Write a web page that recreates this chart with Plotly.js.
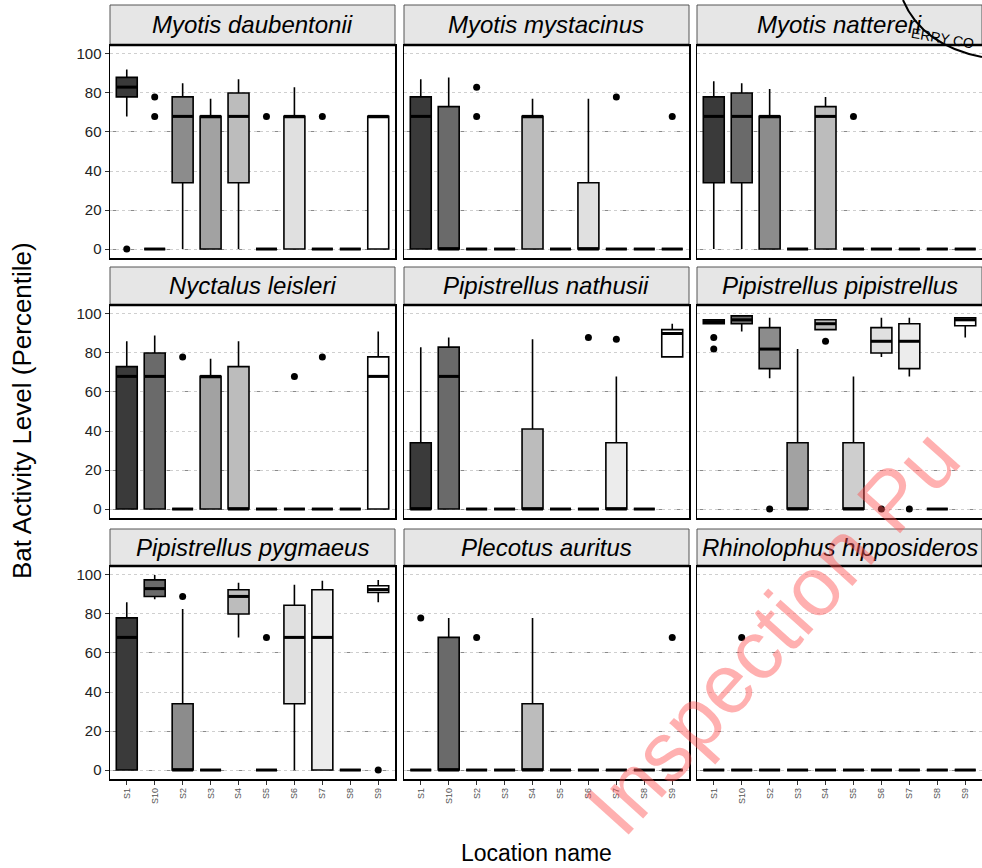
<!DOCTYPE html>
<html><head><meta charset="utf-8">
<script src="https://cdn.plot.ly/plotly-3.0.1.min.js"></script>
<style>html,body{margin:0;padding:0;background:#fff}</style>
</head><body><div id="chart" style="width:982px;height:868px"></div>
<script>
// ---------------- data ----------------
const sites = ["S1","S10","S2","S3","S4","S5","S6","S7","S8","S9"];
const species = ["Myotis daubentonii","Myotis mystacinus","Myotis nattereri",
  "Nyctalus leisleri","Pipistrellus nathusii","Pipistrellus pipistrellus",
  "Pipistrellus pygmaeus","Plecotus auritus","Rhinolophus hipposideros"];

// Myotis daubentonii
const daubQ1  = [78, 0, 34,  0, 34, 0,  0, 0, 0,  0];
const daubMed = [83, 0, 68, 68, 68, 0, 68, 0, 0, 68];
const daubQ3  = [88, 0, 78, 68, 80, 0, 68, 0, 0, 68];
const daubLo  = [68, 0,  0,  0,  0, 0,  0, 0, 0,  0];
const daubHi  = [92, 0, 85, 77, 87, 0, 83, 0, 0, 68];
const daubOutSite = ["S1","S10","S10","S5","S7"];
const daubOutVal  = [0, 78, 68, 68, 68];

// Myotis mystacinus
const mystQ1  = [0, 0, 0, 0,  0, 0,  0, 0, 0, 0];
const mystMed = [68, 0, 0, 0, 68, 0, 0, 0, 0, 0];
const mystQ3  = [78, 73, 0, 0, 68, 0, 34, 0, 0, 0];
const mystLo  = [0, 0, 0, 0,  0, 0,  0, 0, 0, 0];
const mystHi  = [87, 88, 0, 0, 77, 0, 77, 0, 0, 0];
const mystOutSite = ["S2","S2","S7","S9"];
const mystOutVal  = [83, 68, 78, 68];

// Myotis nattereri
const nattQ1  = [34, 34,  0, 0,  0, 0, 0, 0, 0, 0];
const nattMed = [68, 68, 68, 0, 68, 0, 0, 0, 0, 0];
const nattQ3  = [78, 80, 68, 0, 73, 0, 0, 0, 0, 0];
const nattLo  = [0, 0, 0, 0, 0, 0, 0, 0, 0, 0];
const nattHi  = [86, 85, 82, 0, 78, 0, 0, 0, 0, 0];
const nattOutSite = ["S5"];
const nattOutVal  = [68];

// Nyctalus leisleri
const leisQ1  = [0, 0, 0, 0, 0, 0, 0, 0, 0, 0];
const leisMed = [68, 68, 0, 68, 0, 0, 0, 0, 0, 68];
const leisQ3  = [73, 80, 0, 68, 73, 0, 0, 0, 0, 78];
const leisLo  = [0, 0, 0, 0, 0, 0, 0, 0, 0, 0];
const leisHi  = [86, 89, 0, 77, 86, 0, 0, 0, 0, 91];
const leisOutSite = ["S2","S6","S7"];
const leisOutVal  = [78, 68, 78];

// Pipistrellus nathusii
const nathQ1  = [0, 0, 0, 0, 0, 0, 0, 0, 0, 78];
const nathMed = [0, 68, 0, 0, 0, 0, 0, 0, 0, 90];
const nathQ3  = [34, 83, 0, 0, 41, 0, 0, 34, 0, 92];
const nathLo  = [0, 0, 0, 0, 0, 0, 0, 0, 0, 78];
const nathHi  = [83, 88, 0, 0, 87, 0, 0, 68, 0, 95];
const nathOutSite = ["S6","S7"];
const nathOutVal  = [88, 87];

// Pipistrellus pipistrellus
const pipiQ1  = [95, 95, 72, 0, 92, 0, 80, 72, 0, 94];
const pipiMed = [96, 97, 82, 0, 95, 0, 86, 86, 0, 97];
const pipiQ3  = [97, 99, 93, 34, 97, 34, 93, 95, 0, 98];
const pipiLo  = [95, 91, 67, 0, 92, 0, 78, 68, 0, 88];
const pipiHi  = [97, 99, 98, 82, 97, 68, 98, 98, 0, 98];
const pipiOutSite = ["S1","S1","S2","S4","S6","S7"];
const pipiOutVal  = [88, 82, 0, 86, 0, 0];

// Pipistrellus pygmaeus
const pygmQ1  = [0, 89, 0, 0, 80, 0, 34, 0, 0, 91];
const pygmMed = [68, 93, 0, 0, 89, 0, 68, 68, 0, 92.5];
const pygmQ3  = [78, 97.5, 34, 0, 92.4, 0, 84.5, 92.4, 0, 94.5];
const pygmLo  = [0, 87.6, 0, 0, 68, 0, 0, 0, 0, 86];
const pygmHi  = [86, 100, 82.5, 0, 96, 0, 95, 97, 0, 97.4];
const pygmOutSite = ["S2","S5","S9"];
const pygmOutVal  = [89, 68, 0];

// Plecotus auritus
const plecQ1  = [0, 0, 0, 0, 0, 0, 0, 0, 0, 0];
const plecMed = [0, 0, 0, 0, 0, 0, 0, 0, 0, 0];
const plecQ3  = [0, 68, 0, 0, 34, 0, 0, 0, 0, 0];
const plecLo  = [0, 0, 0, 0, 0, 0, 0, 0, 0, 0];
const plecHi  = [0, 78, 0, 0, 78, 0, 0, 0, 0, 0];
const plecOutSite = ["S1","S2","S9"];
const plecOutVal  = [78, 68, 68];

// Rhinolophus hipposideros
const rhinQ1  = [0, 0, 0, 0, 0, 0, 0, 0, 0, 0];
const rhinMed = [0, 0, 0, 0, 0, 0, 0, 0, 0, 0];
const rhinQ3  = [0, 0, 0, 0, 0, 0, 0, 0, 0, 0];
const rhinLo  = [0, 0, 0, 0, 0, 0, 0, 0, 0, 0];
const rhinHi  = [0, 0, 0, 0, 0, 0, 0, 0, 0, 0];
const rhinOutSite = ["S10"];
const rhinOutVal  = [68];

const yTicks = [0, 20, 40, 60, 80, 100];
const yStrongGrid = [0, 20, 60];
const siteFills = ["#3a3a3a","#6a6a6a","#8c8c8c","#a2a2a2","#bcbcbc",
                   "#cecece","#e0e0e0","#ececec","#f6f6f6","#ffffff"];

// --------------- build ---------------
const panels = [
  [daubQ1,daubMed,daubQ3,daubLo,daubHi,daubOutSite,daubOutVal],
  [mystQ1,mystMed,mystQ3,mystLo,mystHi,mystOutSite,mystOutVal],
  [nattQ1,nattMed,nattQ3,nattLo,nattHi,nattOutSite,nattOutVal],
  [leisQ1,leisMed,leisQ3,leisLo,leisHi,leisOutSite,leisOutVal],
  [nathQ1,nathMed,nathQ3,nathLo,nathHi,nathOutSite,nathOutVal],
  [pipiQ1,pipiMed,pipiQ3,pipiLo,pipiHi,pipiOutSite,pipiOutVal],
  [pygmQ1,pygmMed,pygmQ3,pygmLo,pygmHi,pygmOutSite,pygmOutVal],
  [plecQ1,plecMed,plecQ3,plecLo,plecHi,plecOutSite,plecOutVal],
  [rhinQ1,rhinMed,rhinQ3,rhinLo,rhinHi,rhinOutSite,rhinOutVal]
];

const W = 982, H = 868;
const colL = [110, 404, 697], colW = 285;
const rowTop = [45, 305, 566], rowH = 213;
const stripTop = [5, 267, 529];
const BW = 0.75;

const traces = [];
const layout = {
  width: W, height: H, margin: {l:0, r:0, t:0, b:0},
  paper_bgcolor: '#fff', plot_bgcolor: '#fff', showlegend: false,
  font: {family: 'Liberation Sans, Arial, sans-serif', color: '#000'},
  shapes: [], annotations: []
};

panels.forEach((p, k) => {
  const r = Math.floor(k / 3), c = k % 3;
  const sfx = k === 0 ? '' : String(k + 1);
  const xa = 'x' + sfx, ya = 'y' + sfx;
  const [q1, med, q3, lo, hi, outS, outV] = p;
  sites.forEach((s, i) => {
    traces.push({
      type: 'box', x: [i], q1: [q1[i]], median: [med[i]], q3: [q3[i]],
      lowerfence: [lo[i]], upperfence: [hi[i]],
      width: BW, whiskerwidth: 0, boxpoints: false,
      fillcolor: siteFills[i], line: {color: '#000', width: 1.6},
      xaxis: xa, yaxis: ya, hoverinfo: 'skip', showlegend: false
    });
  });
  // thick median lines
  const mx = [], my = [];
  sites.forEach((s, i) => { mx.push(i - BW/2, i + BW/2, null); my.push(med[i], med[i], null); });
  traces.push({type:'scatter', mode:'lines', x: mx, y: my, line:{color:'#000', width:3},
    xaxis: xa, yaxis: ya, hoverinfo:'skip', showlegend:false});
  // outliers
  traces.push({type:'scatter', mode:'markers', x: outS.map(s => sites.indexOf(s)), y: outV,
    marker:{color:'#000', size:7}, xaxis: xa, yaxis: ya, hoverinfo:'skip', showlegend:false, cliponaxis:false});

  const x0 = colL[c] / W, x1 = Math.min(1, (colL[c] + colW) / W);
  const y1 = 1 - rowTop[r] / H, y0 = 1 - (rowTop[r] + rowH) / H;
  layout['xaxis' + sfx] = {
    domain: [x0, x1], anchor: ya, range: [-0.6, 9.6],
    tickvals: sites.map((s, i) => i), ticktext: sites,
    showticklabels: r === 2, ticks: r === 2 ? 'outside' : '', ticklen: 4, tickcolor: '#333',
    tickangle: -90, tickfont: {size: 9, color: '#555'},
    showgrid: false, zeroline: false, showline: true, mirror: true,
    linecolor: '#000', linewidth: 1.5, fixedrange: true
  };
  layout['yaxis' + sfx] = {
    domain: [y0, y1], anchor: xa, range: [-4.6, 104.6],
    tickvals: yTicks, showticklabels: c === 0, ticks: c === 0 ? 'outside' : '',
    ticklen: 4, tickcolor: '#333', tickfont: {size: 15, color: '#222'},
    showgrid: true, gridcolor: '#cfcfcf', griddash: 'dot', gridwidth: 1,
    minor: {tickmode: 'array', tickvals: yStrongGrid, showgrid: true,
            gridcolor: '#8a8a8a', griddash: 'dash', gridwidth: 1, ticks: ''},
    zeroline: false, showline: true, mirror: true, linecolor: '#000', linewidth: 1.5,
    fixedrange: true
  };
  // strip
  const sy1 = 1 - stripTop[r] / H;
  layout.shapes.push({type:'rect', xref:'paper', yref:'paper', x0: x0, x1: x1, y0: y1, y1: sy1,
    fillcolor:'#e6e6e6', line:{color:'#555', width:1}, layer:'below'});
  layout.shapes.push({type:'line', xref:'paper', yref:'paper', x0: x0, x1: x1, y0: y1, y1: y1,
    line:{color:'#000', width:2.5}});
  layout.annotations.push({xref:'paper', yref:'paper', x: (x0 + x1) / 2, y: (y1 + sy1) / 2,
    text: '<i>' + species[k] + '</i>', showarrow: false, xanchor: 'center', yanchor: 'middle',
    font: {size: 24, color: '#000'}});
});

// axis titles
layout.annotations.push({xref:'paper', yref:'paper', x: 22 / W, y: 1 - 411 / H,
  text: 'Bat Activity Level (Percentile)', textangle: -90, showarrow: false,
  xanchor:'center', yanchor:'middle', font:{size: 26, color:'#000'}});
layout.annotations.push({xref:'paper', yref:'paper', x: 536 / W, y: 1 - 853 / H,
  text: 'Location name', showarrow: false, xanchor:'center', yanchor:'middle',
  font:{size: 23, color:'#000'}});
// stamp marks on the scanned page
layout.annotations.push({xref:'paper', yref:'paper', x: 772 / W, y: 1 - 632 / H,
  text: 'Inspection Pu', textangle: -48, showarrow: false, xanchor:'center', yanchor:'middle',
  font:{size: 84, color:'rgba(255,80,80,0.45)'}});
layout.shapes.push({type:'path', xref:'paper', yref:'paper',
  path: 'M ' + (903/W) + ' ' + (1 - 0/H) + ' Q ' + (922/W) + ' ' + (1 - 45/H) + ' ' + (982/W) + ' ' + (1 - 57/H),
  line:{color:'#000', width:2}});
layout.annotations.push({xref:'paper', yref:'paper', x: 942 / W, y: 1 - 38 / H,
  text: 'ERRY CO', textangle: 10, showarrow: false, xanchor:'center', yanchor:'middle',
  font:{size: 14, color:'#000'}});

Plotly.newPlot('chart', traces, layout, {staticPlot: true});
</script>
</body></html>
